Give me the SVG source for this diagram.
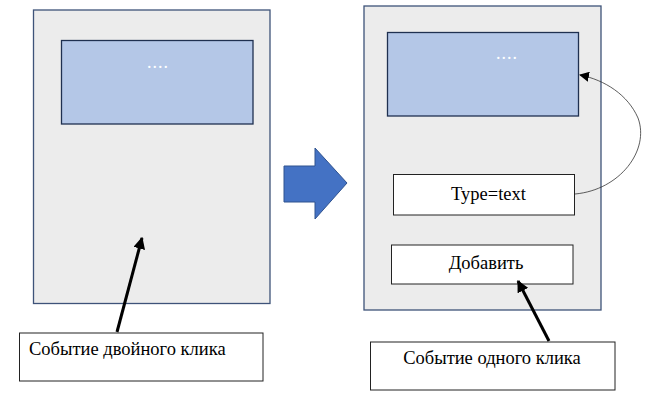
<svg xmlns="http://www.w3.org/2000/svg" width="649" height="412" viewBox="0 0 649 412">
<defs>
<style>
.panel{fill:#ececec;stroke:#3e5379;stroke-width:1.3}
.inner{fill:#b4c7e7;stroke:#1f3050;stroke-width:1.3}
.box{fill:#fff;stroke:#222;stroke-width:1}
.t{font-family:'Liberation Serif','Times New Roman',serif;font-size:18.5px;fill:#000}
.dots{font-family:'Liberation Serif','Times New Roman',serif;font-size:18px;fill:#fff;letter-spacing:1px}
.thick{stroke:#000;stroke-width:3;fill:none}
</style>
<marker id="ah" viewBox="0 0 10 10" refX="9" refY="5" markerWidth="4" markerHeight="4" orient="auto" markerUnits="strokeWidth"><path d="M0,0 L10,5 L0,10 z" fill="#000"/></marker>
<marker id="ah2" viewBox="0 0 10 10" refX="9" refY="5" markerWidth="10" markerHeight="10" orient="auto" markerUnits="userSpaceOnUse"><path d="M0,0 L10,5 L0,10 z" fill="#000"/></marker>
</defs>
<g id="left-panel">
<rect class="panel" x="33.5" y="10" width="236.5" height="293.5"/>
</g>
<g id="left-inner">
<rect class="inner" x="61.5" y="40.5" width="191.5" height="83.5"/>
<text class="dots" x="158" y="68" text-anchor="middle">....</text>
</g>
<g id="left-caption">
<rect class="box" x="19.5" y="333" width="243.5" height="48"/>
<text class="t" x="29" y="355">Событие двойного клика</text>
</g>
<g id="big-arrow">
<path d="M284,166 L315,166 L315,148 L347,183 L315,219 L315,202 L284,202 Z" fill="#4472c4" stroke="#2f528f" stroke-width="1"/>
</g>
<g id="right-panel">
<rect class="panel" x="364" y="6" width="237" height="304"/>
</g>
<g id="right-inner">
<rect class="inner" x="387.5" y="32.5" width="191" height="83.5"/>
<text class="dots" x="507" y="59" text-anchor="middle">....</text>
</g>
<g id="type-box">
<rect class="box" x="393.5" y="174.5" width="181" height="40.5"/>
<text class="t" x="488.5" y="200" text-anchor="middle">Type=text</text>
</g>
<g id="add-box">
<rect class="box" x="391.5" y="245" width="181.5" height="39"/>
<text class="t" x="486" y="269" text-anchor="middle">Добавить</text>
</g>
<g id="right-caption">
<rect class="box" x="370.5" y="342" width="244.5" height="48"/>
<text class="t" x="492" y="364" text-anchor="middle">Событие одного клика</text>
</g>
<g id="connectors">
<line class="thick" x1="117" y1="332" x2="142" y2="238" marker-end="url(#ah)"/>
<line class="thick" x1="549" y1="341" x2="518" y2="281" marker-end="url(#ah)"/>
<path d="M575,194 C620,190 650,150 638,118 C628,95 605,80 580,75" fill="none" stroke="#333" stroke-width="0.8" marker-end="url(#ah2)"/>
</g>
</svg>
